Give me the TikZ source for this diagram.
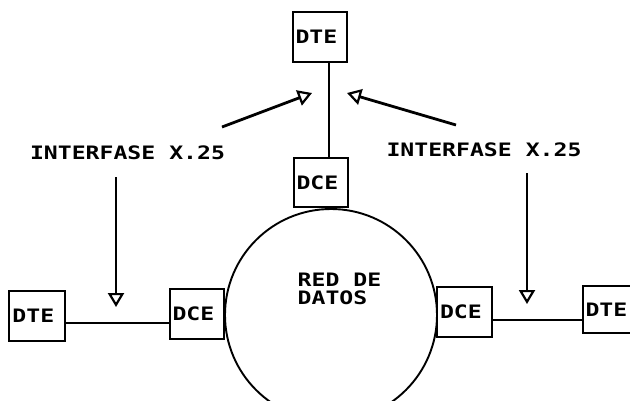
\documentclass[tikz,border=0pt]{standalone}
\usepackage{fontspec}
\newfontfamily\plotterfont[FakeStretch=1.25]{DejaVu Sans Mono}
\usetikzlibrary{arrows.meta}
\begin{document}
\begin{tikzpicture}[x=1pt, y=-1pt,
  every node/.style={font=\plotterfont\bfseries\fontsize{18.5}{16.5}\selectfont},
  unitbox/.style={draw, line width=1.9pt, minimum width=54pt, minimum height=50pt,
    inner xsep=2.5pt, text width=49pt, align=left},
  link/.style={line width=2pt},
  ptr/.style={line width=2.8pt,
    -{Triangle[open, length=14pt, width=16pt, line width=2.2pt]}},
  caption/.style={inner sep=0pt, align=left}]
  \useasboundingbox (0,0) rectangle (630,400);
  \clip (0,0) rectangle (630,400);

  % data network
  \node[draw, circle, line width=1.9pt, minimum size=212pt] (net) at (331,315) {};
  \node[caption] (netlbl) at (339.5,288.5) {RED DE\\[1.5pt]DATOS};

  % terminals and circuit equipment
  \node[unitbox] (tdte) at (320,37) {DTE};
  \node[unitbox, minimum height=49pt] (tdce) at (321,182.5) {DCE};
  \node[unitbox, minimum width=56pt] (ldte) at (37,316) {DTE};
  \node[unitbox] (ldce) at (197,314) {DCE};
  \node[unitbox, minimum width=55pt] (rdce) at (464.5,312) {DCE};
  \node[unitbox, minimum height=47pt] (rdte) at (610,309.5) {DTE};

  % links between DTE and DCE
  \coordinate (vlink) at (329,0);
  \coordinate (hleft) at (0,323);
  \coordinate (hright) at (0,320);
  \draw[link] (tdte.south -| vlink) -- (tdce.north -| vlink);
  \draw[link] (ldte.east |- hleft) -- (ldce.west |- hleft);
  \draw[link] (rdce.east |- hright) -- (rdte.west |- hright);

  % interface labels and pointers
  \node[caption] (lbl1) at (127.5,153) {INTERFASE X.25};
  \node[caption] (lbl2) at (484,150) {INTERFASE X.25};

  \coordinate (p1s) at (222,127);
  \coordinate (p1e) at (312,93);
  \coordinate (p2s) at (456,125);
  \coordinate (p2e) at (347,93);
  \coordinate (p3s) at (116,177);
  \coordinate (p3e) at (116,307);
  \coordinate (p4s) at (527,173);
  \coordinate (p4e) at (527,304);
  \draw[ptr] (p1s) -- (p1e);
  \draw[ptr] (p2s) -- (p2e);
  \draw[ptr] (p3s) -- (p3e);
  \draw[ptr] (p4s) -- (p4e);
\end{tikzpicture}
\end{document}
